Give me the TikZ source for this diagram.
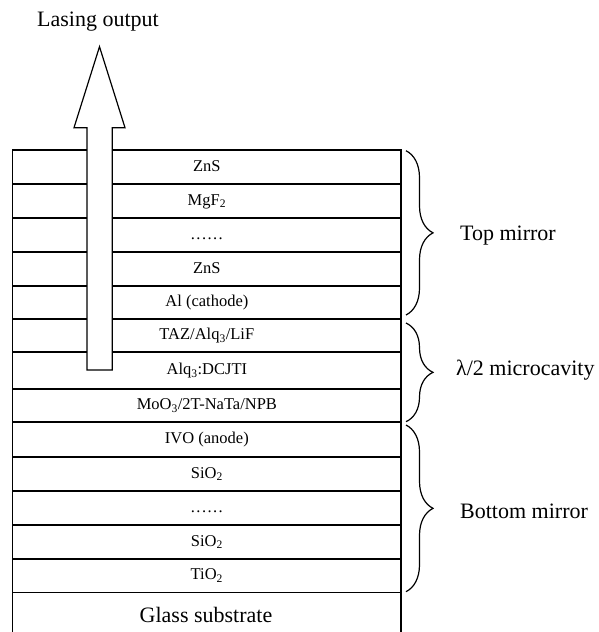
\documentclass[tikz,border=0pt]{standalone}
\usepackage{fontspec}
\setmainfont{Liberation Serif}
\usetikzlibrary{decorations.pathreplacing}
\newcommand{\layerdots}{.\kern1.4pt.\kern1.4pt.\kern1.4pt.\kern1.4pt.\kern1.4pt.}
\tikzset{
  layer/.style={draw, line width=1.2pt, minimum width=388.3pt, inner sep=0pt,
    font=\fontsize{16.5}{18}\selectfont, text height=11pt, text depth=3pt},
  biglabel/.style={font=\fontsize{22}{24}\selectfont, inner sep=0pt},
  bracestyle/.style={draw, line width=1.2pt, decorate,
    decoration={brace, amplitude=27pt}},
  arrowbody/.style={draw, line width=1.2pt, fill=white}
}
\begin{document}
\begin{tikzpicture}[x=1pt, y=-1pt]
\useasboundingbox (0,0) rectangle (598,632);
% layers
\node[layer, minimum height=34pt] (l1) at (206.85,167) {ZnS};
\node[layer, minimum height=34pt] (l2) at (206.85,201) {MgF\textsubscript{2}};
\node[layer, minimum height=34pt] (l3) at (206.85,235) {\layerdots};
\node[layer, minimum height=34pt] (l4) at (206.85,269) {ZnS};
\node[layer, minimum height=33pt] (l5) at (206.85,302.5) {Al (cathode)};
\node[layer, minimum height=33pt] (l6) at (206.85,335.5) {TAZ/Alq\textsubscript{3}/LiF};
\node[layer, minimum height=37pt] (l7) at (206.85,370.5) {Alq\textsubscript{3}:DCJTI};
\node[layer, minimum height=33pt] (l8) at (206.85,405.5) {MoO\textsubscript{3}/2T-NaTa/NPB};
\node[layer, minimum height=35pt] (l9) at (206.85,439.5) {IVO (anode)};
\node[layer, minimum height=34pt] (l10) at (206.85,474) {SiO\textsubscript{2}};
\node[layer, minimum height=34pt] (l11) at (206.85,508) {\layerdots};
\node[layer, minimum height=34pt] (l12) at (206.85,542) {SiO\textsubscript{2}};
\node[layer, minimum height=33.5pt] (l13) at (206.85,575.75) {TiO\textsubscript{2}};
\node[layer, minimum height=80pt] (l14) at (206.85,632.5) {};
\node[biglabel] (glass) at (206,615) {Glass substrate};
% output arrow
\draw[arrowbody] (87,370) -- (87,127.7) -- (74,127.7) -- (99.5,46.7)
  -- (125,127.7) -- (112.3,127.7) -- (112.3,370) -- cycle;
\node[biglabel] (lasing) at (98,22) {Lasing output};
% braces
\coordinate (tb1) at (406,150.7);
\coordinate (tb2) at (406,315);
\coordinate (mb1) at (406,323);
\coordinate (mb2) at (406,421.7);
\coordinate (bb1) at (406,425);
\coordinate (bb2) at (406,591.7);
\draw[bracestyle] (tb1) -- (tb2);
\draw[bracestyle] (mb1) -- (mb2);
\draw[bracestyle] (bb1) -- (bb2);
\node[biglabel, anchor=west] (top) at (460,236) {Top mirror};
\node[biglabel, anchor=west] (cav) at (456,370) {λ/2 microcavity};
\node[biglabel, anchor=west] (bot) at (460,511) {Bottom mirror};
\end{tikzpicture}
\end{document}
